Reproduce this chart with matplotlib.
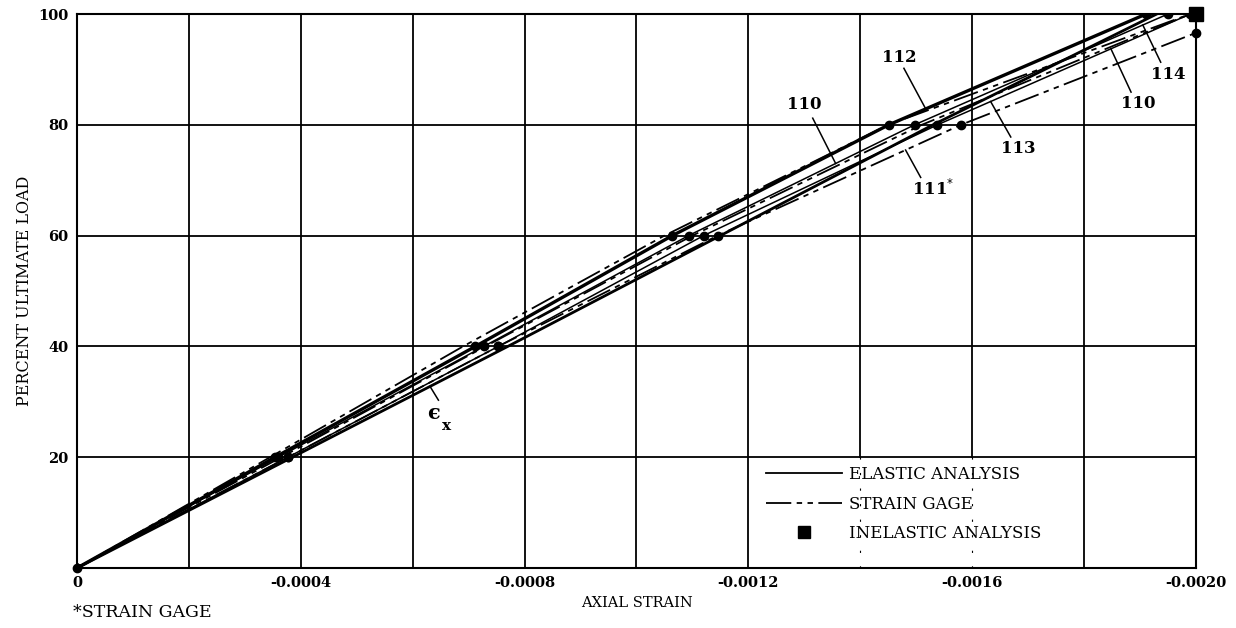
import numpy as np
import matplotlib
matplotlib.use('Agg')
import matplotlib.pyplot as plt
from matplotlib.lines import Line2D

plt.rcParams['font.family'] = ['DejaVu Serif']

# percent ultimate load levels
load = [0, 20, 40, 60, 80, 100]

# axial strain (negative = compression)
gage_112 = [0, -0.000354, -0.000712, -0.001064, -0.001451, -0.001911]
gage_110 = [0, -0.000360, -0.000727, -0.001093, -0.001497, -0.001950]
gage_113 = [0, -0.000377, -0.000753, -0.001120, -0.001538, -0.001990]
gage_111 = [0, -0.000377, -0.000753, -0.001145, -0.001580, -0.002000]
load_111 = [0, 20, 40, 60, 80, 96.6]

eps_x = [0, -0.000385, -0.000770, -0.001150, -0.001530, -0.001930]
sg_upper = [0, -0.000345, -0.000690, -0.001050, -0.001450, -0.001990]
sg_mid = [0, -0.000365, -0.000730, -0.001100, -0.001510, -0.001990]

inelastic_strain = [-0.0020]
inelastic_load = [100]

xticks = [0, -0.0004, -0.0008, -0.0012, -0.0016, -0.0020]
xticklabels = ['0', '-0.0004', '-0.0008', '-0.0012', '-0.0016', '-0.0020']
yticks = [20, 40, 60, 80, 100]

SG = (0, (14, 3, 3, 3, 3, 3))


def main():
    fig = plt.figure(figsize=(12.36, 6.28), dpi=100)
    ax = fig.add_axes([0.0623, 0.0955, 0.9053, 0.8822])

    # grid drawn by hand, the two lines behind the legend are broken
    for x in np.arange(0, -0.00201, -0.0002):
        if abs(x + 0.0014) < 1e-9 or abs(x + 0.0016) < 1e-9:
            ax.axvline(x, ymin=0.2, ymax=1, color='k', lw=1.3, zorder=1)
            ax.axvline(x, ymin=0, ymax=0.2, color='k', lw=0.8,
                       ls=(0, (2, 12)), zorder=1)
        else:
            ax.axvline(x, color='k', lw=1.3, zorder=1)
    for y in yticks:
        ax.axhline(y, color='k', lw=1.3, zorder=1)

    ax.plot(gage_112, load, 'k-', lw=2.4, marker='o', ms=6)
    ax.plot(gage_110, load, 'k-', lw=1.1, marker='o', ms=6)
    ax.plot(gage_113, load, 'k-', lw=1.1, marker='o', ms=6)
    ax.plot(gage_111, load_111, color='k', ls=SG, lw=1.3, marker='o', ms=6,
            clip_on=False)
    ax.plot(eps_x, load, 'k-', lw=2.0)
    ax.plot(sg_upper, load, color='k', ls=SG, lw=1.3)
    ax.plot(sg_mid, load, color='k', ls=SG, lw=1.3)
    ax.plot(inelastic_strain, inelastic_load, 'ks', ms=10, clip_on=False,
            zorder=5)

    # curve labels with leader lines
    def tag(text, tx, ty, sx, sy, xs, ys, target):
        ty_ = np.interp(target, [-v for v in xs], ys)
        ax.plot([sx, -target], [sy, ty_], 'k-', lw=1.1)
        if text:
            ax.text(tx, ty, text, fontsize=12, fontweight='bold',
                    ha='center', va='center')

    tag('112', -0.001469, 92.2, -0.001478, 90.2, gage_112, load, 0.001517)
    tag('110', -0.001299, 83.6, -0.001315, 81.2, gage_110, load, 0.001356)
    tag('111$^{*}$', -0.001530, 68.4, -0.001508, 70.5, gage_111, load_111,
        0.001481)
    tag('113', -0.001683, 75.8, -0.001669, 77.8, gage_113, load, 0.001633)
    tag('110', -0.001896, 83.9, -0.001884, 85.9, gage_113, load, 0.001848)
    tag('114', -0.001950, 89.0, -0.001937, 91.3, gage_110, load, 0.001905)
    tag('', 0, 0, -0.000646, 30.3, eps_x, load, 0.000631)
    ax.text(-0.000637, 28.0, '\u03f5', fontsize=15, fontweight='bold',
            ha='center', va='center')
    ax.text(-0.000660, 25.6, 'x', fontsize=11, fontweight='bold',
            ha='center', va='center')

    ax.set_xlim(0, -0.0020)
    ax.set_ylim(0, 100)
    ax.set_xticks(xticks)
    ax.set_xticklabels(xticklabels, fontsize=10.5, fontweight='bold')
    ax.set_yticks(yticks)
    ax.set_yticklabels([str(v) for v in yticks], fontsize=10.5,
                       fontweight='bold')
    ax.tick_params(length=0, pad=6)
    for s in ax.spines.values():
        s.set_linewidth(1.5)

    ax.set_ylabel('PERCENT ULTIMATE LOAD', fontsize=11.5, labelpad=4)
    ax.set_xlabel('AXIAL STRAIN', fontsize=10.5, labelpad=4)
    fig.text(0.059, 0.017, '*STRAIN GAGE', fontsize=12.5, ha='left')

    handles = [Line2D([], [], color='k', lw=1.3),
               Line2D([], [], color='k', lw=1.3, ls=SG),
               Line2D([], [], color='k', ls='none', marker='s', ms=9)]
    leg = ax.legend(handles, ['ELASTIC ANALYSIS', 'STRAIN GAGE',
                              'INELASTIC ANALYSIS'],
                    loc='upper left', bbox_to_anchor=(0.605, 0.205),
                    frameon=False, fontsize=12, handlelength=4.6,
                    handletextpad=0.4, labelspacing=0.75, borderpad=0.2)
    leg.set_zorder(6)

    fig.savefig('out.png', dpi=100)


if __name__ == '__main__':
    main()
